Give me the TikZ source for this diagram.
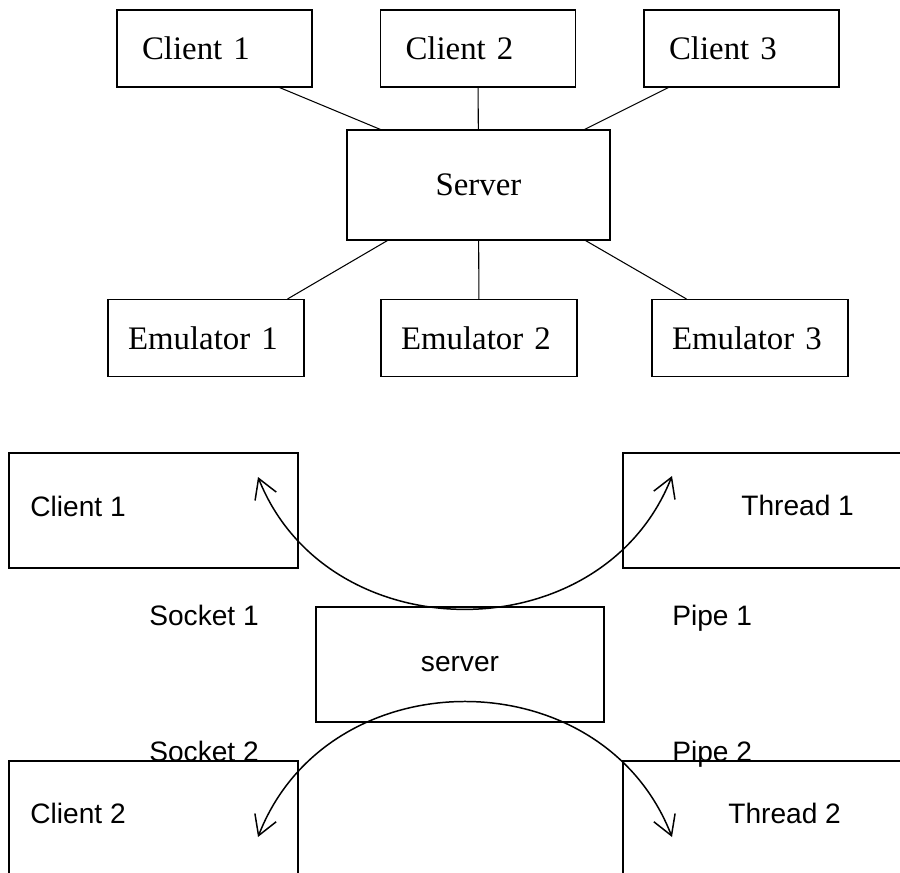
\documentclass[tikz,border=0pt]{standalone}
\usepackage{fontspec}
\setmainfont{Liberation Serif}
\setsansfont{Liberation Sans}
\usetikzlibrary{arrows.meta}

\begin{document}
\begin{tikzpicture}[
	topbox/.style={draw, line width=0.6pt, minimum height=1.54cm, text width=2.9cm, inner xsep=0.5cm, align=left, font=\fontsize{18.7}{22}\selectfont},
	emubox/.style={topbox, text width=3.12cm, inner xsep=0.4cm},
	hubbox/.style={draw, line width=0.6pt, minimum width=5.26cm, minimum height=2.2cm, font=\fontsize{18.7}{22}\selectfont},
	link/.style={line width=0.6pt},
	lowbox/.style={draw, line width=1pt, minimum width=5.78cm, minimum height=2.3cm, font=\sffamily\fontsize{16}{19}\selectfont},
	lowtext/.style={anchor=base west, inner sep=0pt, font=\sffamily\fontsize{16}{19}\selectfont},
	flow/.style={line width=0.85pt, {Straight Barb[length=11pt,width=13pt]}-{Straight Barb[length=11pt,width=13pt]}}
	]
	\useasboundingbox (0,0) rectangle (18,-17.46);
	\clip (0,0) rectangle (18,-17.46);
	
	% 1. Clients (top row)
	\node[topbox] (cl1) at (4.29,-0.97) {Client 1};
	\node[topbox] (cl2) at (9.56,-0.97) {Client 2};
	\node[topbox] (cl3) at (14.83,-0.97) {Client 3};
	
	% 2. Server (middle)
	\node[hubbox] (srv) at (9.57,-3.7) {Server};
	
	% 3. Emulators (bottom row)
	\node[emubox] (em1) at (4.12,-6.76) {Emulator 1};
	\node[emubox] (em2) at (9.58,-6.76) {Emulator 2};
	\node[emubox] (em3) at (15.0,-6.76) {Emulator 3};
	
	% --- Links to the server ---
	\draw[link] ([xshift=-0.66cm]cl1.south east) -- ([xshift=0.68cm]srv.north west);
	\draw[link] (cl2) -- (srv);
	\draw[link] ([xshift=0.5cm]cl3.south west) -- ([xshift=-0.52cm]srv.north east);
	\draw[link] ([xshift=0.82cm]srv.south west) -- ([xshift=-0.34cm]em1.north east);
	\draw[link] (srv) -- (em2);
	\draw[link] ([xshift=-0.5cm]srv.south east) -- ([xshift=0.7cm]em3.north west);
	
	% 4. Second picture: sockets and pipes
	\node[lowbox] (lcl1) at (3.07,-10.21) {};
	\node[lowbox] (thr1) at (15.35,-10.21) {};
	\node[lowbox, minimum width=5.76cm] (lsrv) at (9.2,-13.29) {server};
	\node[lowbox] (lcl2) at (3.07,-16.37) {};
	\node[lowbox] (thr2) at (15.35,-16.37) {};
	
	\node[lowtext] (tcl1) at (0.6,-10.32) {Client 1};
	\node[lowtext] (tthr1) at (14.82,-10.3) {Thread 1};
	\node[lowtext] (tcl2) at (0.6,-16.46) {Client 2};
	\node[lowtext] (tthr2) at (14.56,-16.46) {Thread 2};
	
	\node[lowtext] (sock1) at (2.98,-12.5) {Socket 1};
	\node[lowtext] (pipe1) at (13.44,-12.5) {Pipe 1};
	\node[lowtext] (sock2) at (2.98,-15.22) {Socket 2};
	\node[lowtext] (pipe2) at (13.44,-15.22) {Pipe 2};
	
	% --- Arcs through the server ---
	\coordinate (in1) at (5.16,-9.54);
	\coordinate (out1) at (13.44,-9.52);
	\coordinate (in2) at (5.16,-16.74);
	\coordinate (out2) at (13.44,-16.74);
	\draw[flow] (in1) .. controls (6.56,-13.06) and (12.04,-13.06) .. (out1);
	\draw[flow] (in2) .. controls (6.56,-13.14) and (12.04,-13.14) .. (out2);
	
\end{tikzpicture}
\end{document}
